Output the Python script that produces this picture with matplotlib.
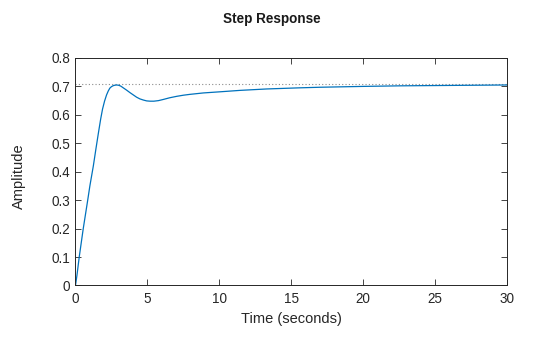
import numpy as np
import matplotlib
matplotlib.use('Agg')
import matplotlib.pyplot as plt

plt.rcParams['font.family'] = ['Liberation Sans', 'DejaVu Sans']

# step response samples (time in s, amplitude)
t = [0, 0.1, 0.26, 0.54, 0.85, 1.0, 1.24, 1.42, 1.59, 1.75, 1.88, 2.02, 2.16, 2.28, 2.39,
     2.5, 2.6, 2.72, 2.86, 3.0, 3.15, 3.32, 3.55, 3.79, 4.02, 4.25, 4.48, 4.72, 4.95,
     5.19, 5.45, 5.77, 6.1, 6.55, 7.03, 7.5, 7.96, 8.89, 10.05, 11.44, 13.3, 15.6, 17.0,
     20.0, 22.6, 25.0, 27.5, 30.0]
amp = [0, 0.035, 0.10, 0.20, 0.30, 0.35, 0.42, 0.48, 0.535, 0.585, 0.62, 0.648, 0.67, 0.684, 0.694,
       0.699, 0.702, 0.704, 0.705, 0.704, 0.701, 0.695, 0.687, 0.678, 0.67, 0.662, 0.656, 0.652, 0.649,
       0.648, 0.648, 0.650, 0.654, 0.660, 0.665, 0.669, 0.672, 0.677, 0.681, 0.686, 0.691, 0.695, 0.697,
       0.700, 0.702, 0.703, 0.704, 0.705]
final_value = 0.7071

xticks = [0, 5, 10, 15, 20, 25, 30]
yticks = [0, 0.1, 0.2, 0.3, 0.4, 0.5, 0.6, 0.7, 0.8]

fig = plt.figure(figsize=(5.6, 3.37), dpi=100)
ax = fig.add_axes([0.1348, 0.153, 0.7705, 0.675])

ax.axhline(final_value, color='#8c8c8c', lw=0.8, ls=(0, (1, 2)))
ax.plot(t, amp, color='#0072BD', lw=0.9)

ax.set_xlim(0, 30)
ax.set_ylim(0, 0.8)
ax.set_xticks(xticks)
ax.set_xticklabels([str(v) for v in xticks])
ax.set_yticks(yticks)
ax.set_yticklabels(['0'] + ['%.1f' % v for v in yticks[1:]])

ax.tick_params(direction='in', length=4, width=0.6, colors='#262626',
               labelsize=9.75, top=True, right=True)
ax.tick_params(axis='x', pad=5)
ax.tick_params(axis='y', pad=4)
for s in ax.spines.values():
    s.set_color('#262626')
    s.set_linewidth(0.7)

ax.set_xlabel('Time (seconds)', fontsize=10.5, color='#262626', va='center')
ax.xaxis.set_label_coords(0.5, -0.147)
ax.set_ylabel('Amplitude', fontsize=10.5, color='#262626', va='center')
ax.yaxis.set_label_coords(-0.1316, 0.481)
fig.text(271.5 / 560, 1 - 19 / 337, 'Step Response', ha='center', va='center',
         fontsize=9.75, fontweight='bold', color='#1a1a1a')

fig.savefig('out.png', dpi=100)
